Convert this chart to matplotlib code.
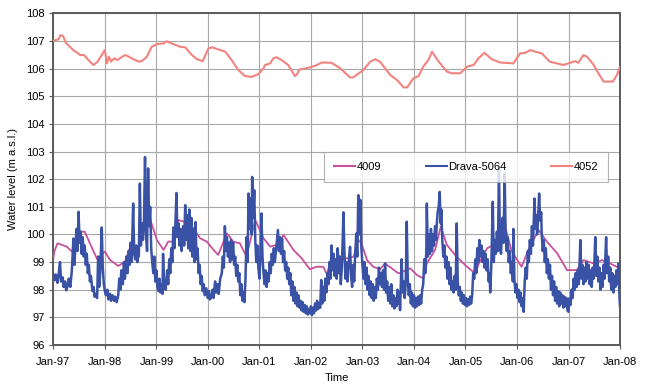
import matplotlib
matplotlib.use("Agg")
import matplotlib.pyplot as plt

plt.rcParams['font.family'] = ['Liberation Sans', 'DejaVu Sans']

# Time axis: decimal years, labelled at each January
year_ticks = [1997, 1998, 1999, 2000, 2001, 2002, 2003, 2004, 2005, 2006, 2007, 2008]
year_labels = ['Jan-97', 'Jan-98', 'Jan-99', 'Jan-00', 'Jan-01', 'Jan-02',
               'Jan-03', 'Jan-04', 'Jan-05', 'Jan-06', 'Jan-07', 'Jan-08']
level_ticks = list(range(96, 109))

# Well 4052 (m a.s.l.)
w4052_t = [1997.00, 1997.10, 1997.14, 1997.19, 1997.24, 1997.32, 1997.40, 1997.47, 1997.52,
           1997.60, 1997.68, 1997.78, 1997.86, 1997.94, 1998.00, 1998.04, 1998.08, 1998.12,
           1998.18, 1998.24, 1998.39, 1998.45, 1998.55, 1998.67, 1998.73, 1998.81, 1998.91,
           1999.01, 1999.14, 1999.20, 1999.30, 1999.46, 1999.56, 1999.69, 1999.79, 1999.90,
           2000.01, 2000.08, 2000.24, 2000.34, 2000.46, 2000.59, 2000.72, 2000.85, 2000.98,
           2001.08, 2001.11, 2001.21, 2001.27, 2001.33, 2001.43, 2001.56, 2001.69, 2001.72,
           2001.78, 2001.91, 2002.08, 2002.21, 2002.40, 2002.57, 2002.76, 2002.82, 2003.02,
           2003.15, 2003.25, 2003.34, 2003.54, 2003.67, 2003.80, 2003.87, 2003.99, 2004.09,
           2004.18, 2004.28, 2004.35, 2004.48, 2004.64, 2004.74, 2004.90, 2005.03, 2005.16,
           2005.25, 2005.37, 2005.51, 2005.67, 2005.93, 2006.06, 2006.16, 2006.26, 2006.36,
           2006.48, 2006.64, 2006.90, 2007.03, 2007.13, 2007.19, 2007.29, 2007.36, 2007.49,
           2007.58, 2007.68, 2007.86, 2007.94, 2008.00]
w4052_v = [107.01, 107.06, 107.21, 107.18, 106.94, 106.79, 106.65, 106.57, 106.49,
           106.49, 106.31, 106.13, 106.25, 106.49, 106.67, 106.19, 106.43, 106.25,
           106.37, 106.31, 106.49, 106.45, 106.34, 106.25, 106.29, 106.41, 106.79,
           106.89, 106.91, 106.99, 106.91, 106.79, 106.77, 106.49, 106.34, 106.27,
           106.73, 106.77, 106.67, 106.61, 106.31, 105.95, 105.73, 105.70, 105.80,
           106.01, 106.13, 106.19, 106.37, 106.41, 106.31, 106.13, 105.73, 105.77,
           105.97, 106.01, 106.10, 106.22, 106.21, 106.01, 105.68, 105.68, 105.95,
           106.25, 106.34, 106.25, 105.77, 105.59, 105.32, 105.32, 105.65, 105.73,
           106.07, 106.31, 106.61, 106.25, 105.89, 105.83, 105.83, 106.07, 106.13,
           106.37, 106.57, 106.34, 106.22, 106.19, 106.55, 106.57, 106.67, 106.61,
           106.55, 106.25, 106.13, 106.21, 106.27, 106.21, 106.49, 106.43, 106.13,
           105.83, 105.53, 105.53, 105.77, 106.07]

# Well 4009 (m a.s.l.)
w4009_t = [1997.00, 1997.02, 1997.08, 1997.26, 1997.36, 1997.42, 1997.52, 1997.61, 1997.71,
           1997.85, 1998.00, 1998.10, 1998.26, 1998.39, 1998.52, 1998.65, 1998.75, 1998.88,
           1999.01, 1999.14, 1999.23, 1999.33, 1999.43, 1999.65, 1999.85, 1999.98, 2000.11,
           2000.20, 2000.37, 2000.49, 2000.62, 2000.75, 2000.92, 2001.08, 2001.21, 2001.34,
           2001.47, 2001.66, 2001.82, 2001.98, 2002.11, 2002.24, 2002.31, 2002.38, 2002.44,
           2002.57, 2002.70, 2002.83, 2002.92, 2002.98, 2003.09, 2003.21, 2003.34, 2003.44,
           2003.57, 2003.70, 2003.93, 2004.06, 2004.18, 2004.25, 2004.41, 2004.52, 2004.64,
           2004.83, 2005.03, 2005.19, 2005.26, 2005.42, 2005.61, 2005.77, 2005.90, 2006.09,
           2006.22, 2006.42, 2006.58, 2006.78, 2006.97, 2007.16, 2007.29, 2007.49, 2007.65,
           2007.81, 2008.00]
w4009_v = [99.14, 99.38, 99.68, 99.56, 99.38, 99.68, 100.10, 100.10, 99.68,
           99.11, 99.38, 99.08, 98.86, 99.01, 99.68, 99.50, 100.10, 100.55,
           99.80, 99.44, 99.74, 99.74, 100.52, 100.40, 99.86, 99.74, 99.44,
           99.26, 100.04, 99.74, 99.68, 99.20, 100.52, 99.86, 99.56, 99.62,
           99.98, 99.44, 99.14, 98.74, 98.83, 98.83, 98.56, 99.00, 99.14,
           99.07, 99.14, 99.20, 99.80, 99.68, 99.07, 98.83, 98.74, 98.95,
           98.77, 98.59, 98.77, 98.53, 98.41, 98.95, 99.44, 100.28, 99.62,
           99.19, 98.83, 98.59, 98.95, 99.50, 99.68, 100.28, 99.38, 98.83,
           99.44, 100.16, 99.74, 99.32, 98.71, 98.71, 99.07, 98.95, 99.07,
           98.95, 98.77]

# River gauge Drava-5064 (m a.s.l.)
drava_t = [
    1997.00, 1997.03, 1997.05, 1997.08, 1997.10, 1997.13, 1997.15, 1997.18, 1997.20, 1997.23,
    1997.25, 1997.28, 1997.30, 1997.33, 1997.36, 1997.39, 1997.41, 1997.43, 1997.45, 1997.47,
    1997.49, 1997.51, 1997.53, 1997.55, 1997.57, 1997.59, 1997.61, 1997.63, 1997.65, 1997.67,
    1997.69, 1997.71, 1997.73, 1997.76, 1997.78, 1997.80, 1997.82, 1997.85, 1997.87, 1997.89,
    1997.91, 1997.94, 1997.96, 1997.98, 1998.00, 1998.02, 1998.05, 1998.07, 1998.10, 1998.12,
    1998.15, 1998.18, 1998.20, 1998.23, 1998.26, 1998.28, 1998.30, 1998.32, 1998.35, 1998.37,
    1998.39, 1998.42, 1998.44, 1998.46, 1998.48, 1998.50, 1998.52, 1998.55, 1998.57, 1998.59,
    1998.61, 1998.63, 1998.65, 1998.66, 1998.68, 1998.70, 1998.72, 1998.74, 1998.76, 1998.78,
    1998.80, 1998.82, 1998.84, 1998.86, 1998.88, 1998.90, 1998.92, 1998.94, 1998.96, 1998.98,
    1999.00, 1999.02, 1999.04, 1999.06, 1999.08, 1999.10, 1999.12, 1999.13, 1999.15, 1999.18,
    1999.21, 1999.23, 1999.25, 1999.27, 1999.29, 1999.31, 1999.33, 1999.35, 1999.37, 1999.39,
    1999.41, 1999.43, 1999.45, 1999.47, 1999.49, 1999.52, 1999.54, 1999.56, 1999.58, 1999.60,
    1999.62, 1999.64, 1999.66, 1999.68, 1999.70, 1999.72, 1999.74, 1999.76, 1999.78, 1999.80,
    1999.82, 1999.84, 1999.86, 1999.88, 1999.90, 1999.92, 1999.94, 1999.97, 2000.00, 2000.02,
    2000.04, 2000.07, 2000.09, 2000.11, 2000.14, 2000.16, 2000.19, 2000.21, 2000.24, 2000.27,
    2000.29, 2000.31, 2000.33, 2000.35, 2000.37, 2000.39, 2000.41, 2000.43, 2000.45, 2000.47,
    2000.49, 2000.51, 2000.53, 2000.55, 2000.57, 2000.59, 2000.61, 2000.63, 2000.65, 2000.67,
    2000.69, 2000.71, 2000.73, 2000.75, 2000.77, 2000.79, 2000.81, 2000.83, 2000.85, 2000.86,
    2000.88, 2000.90, 2000.92, 2000.94, 2000.96, 2000.98, 2001.00, 2001.02, 2001.04, 2001.06,
    2001.08, 2001.10, 2001.12, 2001.14, 2001.16, 2001.18, 2001.20, 2001.22, 2001.24, 2001.26,
    2001.28, 2001.30, 2001.32, 2001.34, 2001.36, 2001.38, 2001.40, 2001.42, 2001.44, 2001.46,
    2001.48, 2001.50, 2001.52, 2001.54, 2001.56, 2001.58, 2001.60, 2001.62, 2001.64, 2001.66,
    2001.68, 2001.70, 2001.72, 2001.74, 2001.76, 2001.78, 2001.80, 2001.82, 2001.84, 2001.86,
    2001.88, 2001.90, 2001.92, 2001.94, 2001.96, 2001.98, 2002.00, 2002.02, 2002.04, 2002.06,
    2002.08, 2002.10, 2002.12, 2002.14, 2002.16, 2002.18, 2002.20, 2002.22, 2002.24, 2002.26,
    2002.28, 2002.30, 2002.32, 2002.34, 2002.36, 2002.38, 2002.40, 2002.42, 2002.44, 2002.46,
    2002.48, 2002.50, 2002.52, 2002.54, 2002.56, 2002.58, 2002.60, 2002.62, 2002.63, 2002.65,
    2002.67, 2002.69, 2002.71, 2002.73, 2002.76, 2002.78, 2002.80, 2002.82, 2002.84, 2002.86,
    2002.88, 2002.90, 2002.92, 2002.94, 2002.96, 2002.98, 2003.00, 2003.02, 2003.04, 2003.06,
    2003.08, 2003.10, 2003.12, 2003.14, 2003.16, 2003.18, 2003.20, 2003.22, 2003.24, 2003.26,
    2003.28, 2003.30, 2003.32, 2003.34, 2003.36, 2003.38, 2003.40, 2003.42, 2003.44, 2003.46,
    2003.48, 2003.50, 2003.52, 2003.54, 2003.56, 2003.58, 2003.60, 2003.62, 2003.64, 2003.66,
    2003.68, 2003.70, 2003.72, 2003.73, 2003.76, 2003.78, 2003.80, 2003.82, 2003.84, 2003.86,
    2003.88, 2003.90, 2003.92, 2003.94, 2003.96, 2003.98, 2004.00, 2004.02, 2004.04, 2004.06,
    2004.08, 2004.10, 2004.12, 2004.14, 2004.16, 2004.18, 2004.20, 2004.22, 2004.24, 2004.25,
    2004.27, 2004.29, 2004.31, 2004.33, 2004.35, 2004.37, 2004.39, 2004.41, 2004.43, 2004.44,
    2004.46, 2004.48, 2004.50, 2004.52, 2004.53, 2004.55, 2004.57, 2004.59, 2004.61, 2004.63,
    2004.65, 2004.67, 2004.69, 2004.71, 2004.73, 2004.75, 2004.77, 2004.79, 2004.81, 2004.83,
    2004.85, 2004.87, 2004.89, 2004.91, 2004.93, 2004.95, 2004.97, 2004.99, 2005.01, 2005.03,
    2005.05, 2005.07, 2005.09, 2005.11, 2005.13, 2005.15, 2005.17, 2005.19, 2005.21, 2005.23,
    2005.25, 2005.27, 2005.29, 2005.31, 2005.33, 2005.35, 2005.37, 2005.39, 2005.41, 2005.43,
    2005.45, 2005.47, 2005.48, 2005.50, 2005.53, 2005.55, 2005.57, 2005.59, 2005.61, 2005.63,
    2005.65, 2005.67, 2005.69, 2005.71, 2005.72, 2005.74, 2005.76, 2005.78, 2005.80, 2005.82,
    2005.84, 2005.86, 2005.88, 2005.90, 2005.92, 2005.93, 2005.95, 2005.97, 2005.99, 2006.01,
    2006.03, 2006.05, 2006.07, 2006.09, 2006.11, 2006.13, 2006.15, 2006.17, 2006.19, 2006.21,
    2006.23, 2006.25, 2006.27, 2006.29, 2006.31, 2006.34, 2006.36, 2006.38, 2006.39, 2006.41,
    2006.43, 2006.45, 2006.47, 2006.48, 2006.50, 2006.52, 2006.54, 2006.56, 2006.58, 2006.60,
    2006.62, 2006.64, 2006.66, 2006.68, 2006.70, 2006.72, 2006.74, 2006.76, 2006.78, 2006.80,
    2006.82, 2006.84, 2006.86, 2006.88, 2006.90, 2006.92, 2006.94, 2006.96, 2006.98, 2007.00,
    2007.02, 2007.04, 2007.06, 2007.08, 2007.10, 2007.12, 2007.14, 2007.16, 2007.18, 2007.20,
    2007.23, 2007.25, 2007.27, 2007.29, 2007.31, 2007.33, 2007.35, 2007.37, 2007.39, 2007.41,
    2007.43, 2007.45, 2007.47, 2007.49, 2007.52, 2007.54, 2007.56, 2007.58, 2007.60, 2007.62,
    2007.64, 2007.66, 2007.68, 2007.70, 2007.73, 2007.75, 2007.77, 2007.79, 2007.81, 2007.83,
    2007.85, 2007.87, 2007.89, 2007.91, 2007.93, 2007.95, 2007.97, 2007.99, 2008.00]
drava_v = [
    98.55, 98.35, 98.55, 98.25, 98.50, 99.00, 98.30, 98.45, 98.10, 98.30,
    97.98, 98.15, 98.40, 98.10, 98.70, 99.85, 98.90, 99.60, 100.20, 99.40,
    100.82, 99.70, 100.10, 99.30, 99.90, 99.20, 99.60, 98.90, 99.30, 98.60,
    98.90, 98.30, 98.50, 97.95, 98.10, 97.75, 97.85, 97.70, 99.20, 98.10,
    98.60, 100.25, 98.80, 98.20, 97.95, 97.80, 98.00, 97.65, 97.85, 97.60,
    97.80, 97.60, 97.75, 97.55, 97.80, 98.40, 98.00, 98.70, 98.20, 99.00,
    98.40, 99.20, 98.60, 99.40, 98.90, 99.70, 99.00, 101.12, 99.30, 99.10,
    99.60, 99.00, 99.50, 99.20, 101.84, 99.60, 100.40, 99.80, 100.50, 102.80,
    100.00, 99.40, 102.39, 100.30, 101.00, 99.50, 99.00, 98.60, 99.20, 98.30,
    98.70, 98.10, 97.95, 98.40, 97.90, 98.20, 97.85, 99.30, 98.20, 98.00,
    98.70, 98.20, 99.10, 98.60, 99.50, 99.00, 100.25, 99.50, 100.40, 101.50,
    99.90, 100.40, 99.60, 100.20, 99.40, 100.30, 99.60, 101.06, 99.80, 100.70,
    99.50, 100.90, 99.40, 100.60, 99.20, 100.20, 99.00, 100.45, 99.10, 99.50,
    98.60, 98.90, 98.20, 98.50, 97.95, 98.20, 97.80, 98.05, 97.70, 97.95,
    97.65, 97.75, 98.00, 97.70, 98.30, 97.90, 98.20, 97.85, 98.40, 98.60,
    99.20, 98.80, 100.30, 99.40, 99.90, 99.20, 99.70, 99.00, 99.80, 99.10,
    99.70, 98.90, 99.20, 98.50, 98.90, 98.30, 98.60, 97.80, 98.20, 97.60,
    97.90, 97.55, 98.40, 99.90, 99.00, 101.48, 100.20, 101.30, 100.00, 102.08,
    100.60, 101.60, 99.80, 99.00, 99.60, 98.80, 98.40, 99.20, 100.76, 99.20,
    98.60, 98.20, 98.70, 98.10, 98.60, 98.30, 99.00, 98.60, 99.30, 98.90,
    99.50, 99.00, 99.40, 99.80, 100.16, 99.40, 99.90, 99.30, 99.85, 99.00,
    99.40, 98.70, 99.00, 98.40, 98.80, 98.20, 98.60, 97.80, 98.30, 97.60,
    98.10, 97.50, 97.90, 97.40, 97.80, 97.35, 97.60, 97.25, 97.55, 97.20,
    97.45, 97.15, 97.40, 97.10, 97.30, 97.15, 97.40, 97.08, 97.35, 97.15,
    97.50, 97.25, 97.60, 97.30, 97.50, 97.35, 98.35, 97.50, 98.10, 97.60,
    98.40, 97.90, 98.60, 98.20, 99.00, 98.40, 99.60, 98.70, 99.30, 98.50,
    99.10, 98.40, 99.50, 98.60, 99.20, 98.20, 98.80, 100.00, 100.80, 99.40,
    98.40, 99.00, 98.30, 98.90, 99.55, 98.50, 98.10, 98.90, 98.30, 99.30,
    100.03, 99.20, 101.42, 100.00, 101.25, 99.50, 98.90, 98.40, 99.00, 98.20,
    98.80, 98.00, 98.50, 97.80, 98.30, 97.70, 98.20, 97.60, 98.10, 97.70,
    98.40, 98.00, 98.80, 98.20, 98.60, 98.10, 98.70, 98.00, 98.95, 97.90,
    98.30, 97.60, 98.10, 97.50, 98.20, 97.40, 97.80, 97.32, 97.70, 97.40,
    98.00, 97.50, 97.90, 97.26, 99.10, 97.90, 98.30, 97.70, 98.20, 100.46,
    98.40, 97.80, 98.20, 97.50, 97.90, 97.40, 97.80, 97.35, 97.70, 97.40,
    97.75, 97.45, 97.80, 97.50, 98.00, 98.20, 99.10, 98.60, 99.40, 101.12,
    99.20, 100.00, 99.30, 100.20, 99.40, 100.00, 99.60, 100.30, 99.80, 100.28,
    100.80, 101.00, 101.54, 100.40, 100.90, 99.80, 99.20, 99.60, 98.80, 99.20,
    98.40, 99.00, 98.20, 98.80, 98.00, 98.30, 97.90, 98.50, 98.00, 100.40,
    98.30, 97.80, 98.10, 97.60, 97.90, 97.50, 97.80, 97.45, 97.70, 97.40,
    97.65, 97.45, 97.75, 97.50, 97.80, 98.60, 98.40, 99.10, 98.60, 99.50,
    99.00, 99.80, 99.20, 99.60, 99.00, 99.40, 98.80, 99.30, 98.70, 99.10,
    98.30, 98.60, 97.90, 98.80, 101.18, 99.00, 99.80, 99.30, 100.10, 99.40,
    102.45, 99.60, 99.30, 100.20, 100.60, 99.70, 102.20, 100.00, 99.40, 99.90,
    99.00, 99.40, 98.60, 99.00, 98.30, 100.20, 98.40, 97.90, 98.20, 97.70,
    98.00, 97.55, 97.90, 97.40, 97.70, 97.20, 98.30, 98.80, 98.40, 99.40,
    99.00, 99.80, 99.30, 100.30, 99.60, 101.30, 100.20, 100.70, 100.00, 100.60,
    101.48, 100.50, 100.80, 100.00, 99.40, 99.80, 99.00, 99.50, 98.60, 99.10,
    98.40, 98.90, 98.00, 98.50, 97.80, 98.30, 97.60, 98.10, 97.50, 97.95,
    97.40, 97.90, 97.50, 97.80, 97.35, 97.75, 97.40, 97.70, 97.25, 97.20,
    97.70, 97.45, 98.00, 97.70, 98.40, 98.00, 98.60, 98.10, 98.70, 98.20,
    99.80, 98.40, 98.90, 98.20, 98.80, 98.30, 99.00, 98.40, 98.90, 98.20,
    98.70, 98.10, 98.80, 98.40, 99.90, 98.50, 99.20, 98.30, 98.80, 98.00,
    98.60, 98.10, 98.90, 98.40, 99.90, 98.60, 99.20, 98.30, 98.80, 98.00,
    98.60, 97.90, 98.50, 98.10, 98.70, 98.20, 98.95, 97.70, 97.40]

series_names = ['4009', 'Drava-5064', '4052']
series_colors = ['#C9509E', '#3A52A6', '#F2837F']

fig = plt.figure(figsize=(6.55, 3.85), dpi=100)
ax = fig.add_axes([0.0814, 0.1039, 0.8652, 0.8615])

ax.plot(w4009_t, w4009_v, color=series_colors[0], lw=1.3, zorder=3)
ax.plot(drava_t, drava_v, color=series_colors[1], lw=1.8, zorder=4)
ax.plot(w4052_t, w4052_v, color=series_colors[2], lw=1.5, zorder=3)

ax.set_xlim(year_ticks[0], year_ticks[-1])
ax.set_ylim(level_ticks[0], level_ticks[-1])
ax.set_xticks(year_ticks)
ax.set_xticklabels(year_labels)
ax.set_yticks(level_ticks)

ax.grid(True, color='#A8A8A8', lw=0.8, zorder=0)
ax.set_axisbelow(True)
for side in ['left', 'right', 'top', 'bottom']:
    ax.spines[side].set_color('#5A5A5A')
    ax.spines[side].set_linewidth(1.4)
ax.tick_params(axis='both', labelsize=8, length=3, width=0.8, color='#5A5A5A')
ax.tick_params(axis='x', pad=6)
ax.tick_params(axis='y', pad=3)

ax.set_xlabel('Time', fontsize=8, labelpad=4)
ax.set_ylabel('Water level (m a.s.l.)', fontsize=8, labelpad=6)

# Legend keys drawn with a uniform line weight
from matplotlib.lines import Line2D
legend_keys = [Line2D([], [], color=c, lw=1.5) for c in series_colors]
leg = ax.legend(legend_keys, series_names, loc='center',
                bbox_to_anchor=(0.4777, 0.446, 0.501, 0.181), ncol=3, mode='expand',
                fontsize=8, frameon=True, fancybox=False, edgecolor='#A0A0A0',
                handlelength=1.9, handletextpad=0.1, borderpad=0.9, borderaxespad=0.0,
                columnspacing=3.0)
leg.get_frame().set_linewidth(0.8)

fig.savefig('out.png', dpi=100, facecolor='white')
